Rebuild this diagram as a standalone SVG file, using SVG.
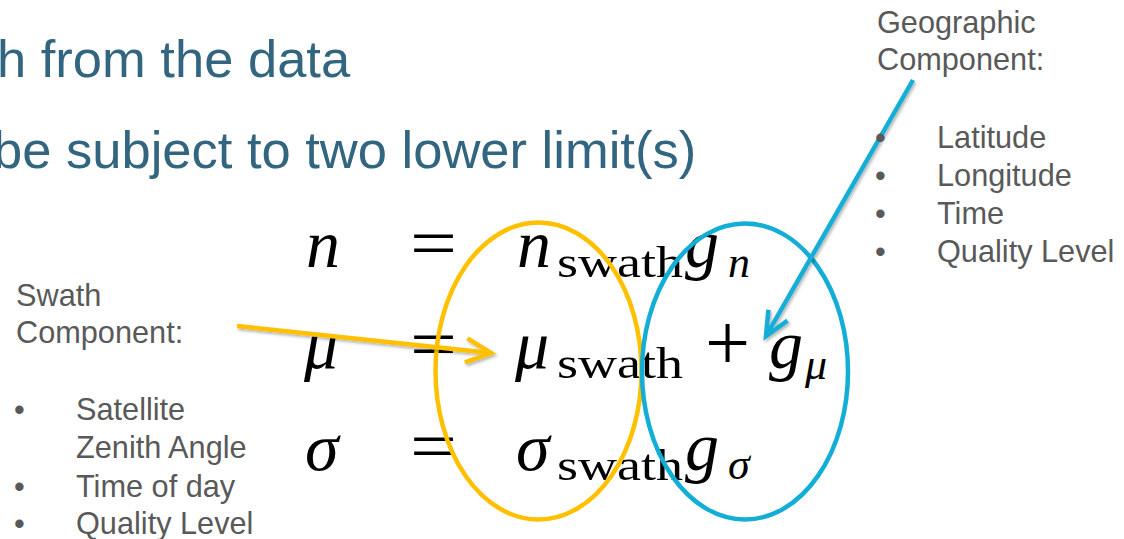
<svg xmlns="http://www.w3.org/2000/svg" width="1124" height="539" viewBox="0 0 1124 539">
<style>
.title{font-family:"Liberation Sans",Arial,sans-serif;font-size:52.5px;fill:#32657f}
.lbl{font-family:"Liberation Sans",Arial,sans-serif;font-size:30.7px;fill:#595959}
.mi{font-family:"Liberation Serif","Times New Roman",serif;font-style:italic;font-size:68px;fill:#000}
.mis{font-family:"Liberation Serif","Times New Roman",serif;font-style:italic;font-size:44px;fill:#000}
.mr{font-family:"Liberation Serif","Times New Roman",serif;font-size:70px;fill:#000}
.sub{font-family:"Liberation Serif","Times New Roman",serif;font-size:45px;fill:#000}
.ell{fill:none;stroke-width:4.5}
.conn{fill:none;stroke-width:4.5;stroke-linecap:butt}
</style>
<defs>
<filter id="sh" x="-10%" y="-10%" width="120%" height="130%">
<feDropShadow dx="1.5" dy="2" stdDeviation="1.5" flood-color="#000" flood-opacity="0.3"/>
</filter>
<marker id="ay" markerUnits="userSpaceOnUse" markerWidth="40" markerHeight="40" viewBox="-30 -20 40 40" refX="0" refY="0" orient="auto" overflow="visible">
<path d="M -25 -12 L 0 0 L -25 12" fill="none" stroke="#FFC000" stroke-width="4.5" stroke-linejoin="miter"/>
</marker>
<marker id="ab" markerUnits="userSpaceOnUse" markerWidth="40" markerHeight="40" viewBox="-30 -20 40 40" refX="0" refY="0" orient="auto" overflow="visible">
<path d="M -24 -11 L 0 0 L -24 11" fill="none" stroke="#12AED6" stroke-width="4.5" stroke-linejoin="miter"/>
</marker>
</defs>
<rect width="1124" height="539" fill="#fff"/>
<g id="title">
<text class="title" x="-3" y="77">h from the data</text>
<text class="title" x="-7" y="168">be subject to two lower limit(s)</text>
</g>
<g id="equations">
<text class="mi" x="306" y="267">n</text>
<text class="mr" x="410" y="267" textLength="47" lengthAdjust="spacingAndGlyphs">=</text>
<text class="mi" x="517" y="267">n</text>
<text class="sub" x="557" y="277" textLength="126" lengthAdjust="spacingAndGlyphs">swath</text>
<text class="mi" x="685" y="267">g</text>
<text class="mis" x="728" y="277">n</text>

<text class="mi" x="304" y="368">μ</text>
<text class="mr" x="410" y="368" textLength="47" lengthAdjust="spacingAndGlyphs">=</text>
<text class="mi" x="515" y="368">μ</text>
<text class="sub" x="557" y="378" textLength="126" lengthAdjust="spacingAndGlyphs">swath</text>
<text class="mr" x="705" y="370" style="font-size:80px">+</text>
<text class="mi" x="769" y="368">g</text>
<text class="mis" x="805" y="379">μ</text>

<text class="mi" x="305" y="470">σ</text>
<text class="mr" x="410" y="470" textLength="47" lengthAdjust="spacingAndGlyphs">=</text>
<text class="mi" x="516" y="470">σ</text>
<text class="sub" x="557" y="480" textLength="126" lengthAdjust="spacingAndGlyphs">swath</text>
<text class="mi" x="685" y="470">g</text>
<text class="mis" x="728" y="479">σ</text>
</g>
<g id="swath-ellipse">
<ellipse class="ell" cx="538.5" cy="371" rx="103" ry="148.5" stroke="#FFC000"/>
</g>
<g id="geo-ellipse">
<ellipse class="ell" cx="745" cy="371.5" rx="103" ry="148" stroke="#12AED6"/>
</g>
<g id="swath-label">
<text class="lbl" x="16" y="306">Swath</text>
<text class="lbl" x="16" y="343">Component:</text>
<text class="lbl" x="14" y="420">•</text>
<text class="lbl" x="76" y="420">Satellite</text>
<text class="lbl" x="76" y="458">Zenith Angle</text>
<text class="lbl" x="14" y="497">•</text>
<text class="lbl" x="76" y="497">Time of day</text>
<text class="lbl" x="14" y="534">•</text>
<text class="lbl" x="76" y="534">Quality Level</text>
</g>
<g id="connectors" filter="url(#sh)">
<line class="conn" x1="237" y1="326" x2="491" y2="353" stroke="#FFC000" marker-end="url(#ay)"/>
<line class="conn" x1="913" y1="80" x2="766" y2="336" stroke="#12AED6" marker-end="url(#ab)"/>
</g>
<g id="geo-label">
<text class="lbl" x="877" y="33">Geographic</text>
<text class="lbl" x="877" y="70">Component:</text>
<text class="lbl" x="875" y="148">•</text>
<text class="lbl" x="937" y="148">Latitude</text>
<text class="lbl" x="875" y="186">•</text>
<text class="lbl" x="937" y="186">Longitude</text>
<text class="lbl" x="875" y="224">•</text>
<text class="lbl" x="937" y="224">Time</text>
<text class="lbl" x="875" y="262">•</text>
<text class="lbl" x="937" y="262">Quality Level</text>
</g>
</svg>
